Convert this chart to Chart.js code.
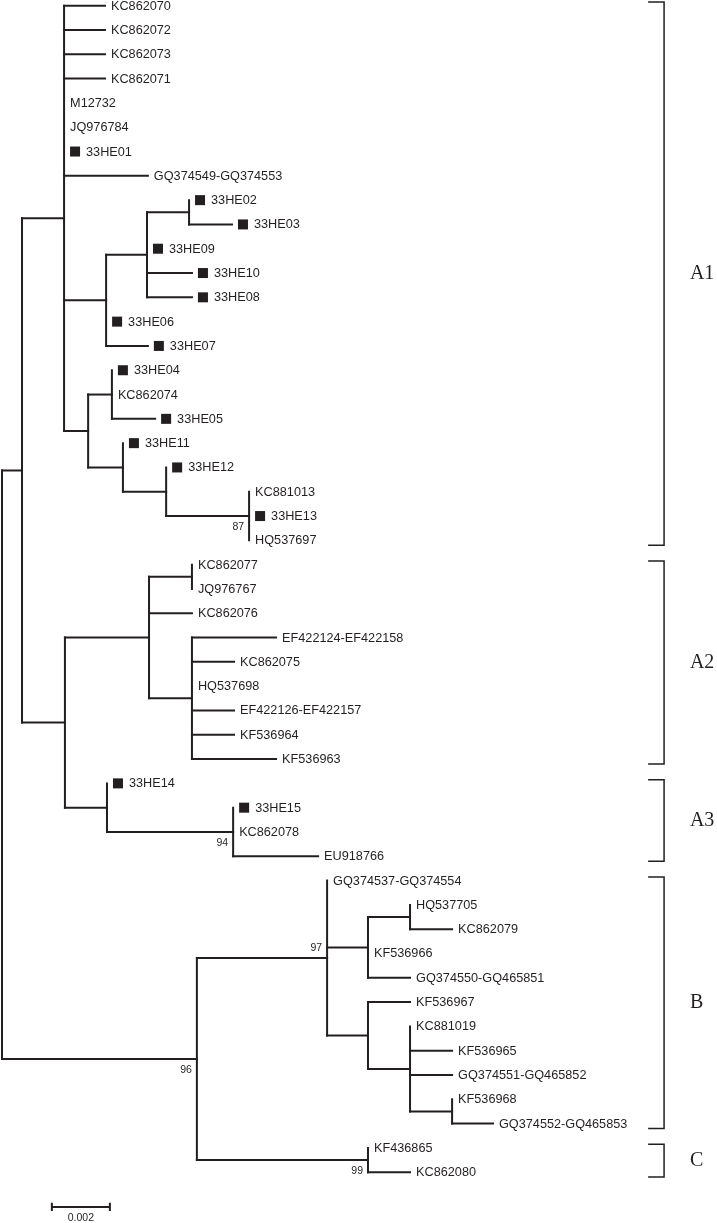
<!DOCTYPE html>
<html>
<head>
<meta charset="utf-8">
<script src="https://cdn.jsdelivr.net/npm/chart.js@4.4.1/dist/chart.umd.min.js"></script>
<style>
    html, body { margin: 0; padding: 0; background: #fff; }
    #wrap { width: 717px; height: 1223px; }
</style>
</head>
<body>
<div id="wrap"><canvas id="tree" width="717" height="1223"></canvas></div>
<script>
// ===== DATI =====
// Sequenze nell'ordine di disegno (dall'alto in basso)
const taxa = [
    'KC862070', 'KC862072', 'KC862073', 'KC862071', 'M12732', 'JQ976784', '33HE01',
    'GQ374549-GQ374553', '33HE02', '33HE03', '33HE09', '33HE10', '33HE08', '33HE06',
    '33HE07', '33HE04', 'KC862074', '33HE05', '33HE11', '33HE12', 'KC881013', '33HE13',
    'HQ537697', 'KC862077', 'JQ976767', 'KC862076', 'EF422124-EF422158', 'KC862075',
    'HQ537698', 'EF422126-EF422157', 'KF536964', 'KF536963', '33HE14', '33HE15',
    'KC862078', 'EU918766', 'GQ374537-GQ374554', 'HQ537705', 'KC862079', 'KF536966',
    'GQ374550-GQ465851', 'KF536967', 'KC881019', 'KF536965', 'GQ374551-GQ465852',
    'KF536968', 'GQ374552-GQ465853', 'KF436865', 'KC862080'
];

// Distanza di ogni foglia dalla radice (sostituzioni/sito)
const tipDepth = [
    0.00355, 0.00355, 0.00355, 0.00355, 0.00214, 0.00214, 0.00214,
    0.00503, 0.00645, 0.00793, 0.00500, 0.00655, 0.00655, 0.00359,
    0.00503, 0.00379, 0.00379, 0.00528, 0.00417, 0.00566, 0.00852, 0.00852,
    0.00852, 0.00655, 0.00655, 0.00655, 0.00945, 0.00800,
    0.00655, 0.00800, 0.00800, 0.00945, 0.00362, 0.00797,
    0.00797, 0.01090, 0.01121, 0.01407, 0.01552, 0.01262,
    0.01407, 0.01407, 0.01407, 0.01552, 0.01552,
    0.01552, 0.01693, 0.01262, 0.01407
];

// Nodo padre di ogni foglia
const tipParent = [
    'A1', 'A1', 'A1', 'A1', 'A1', 'A1', 'A1',
    'A1', 'N4', 'N4', 'N3', 'N3', 'N3', 'N1',
    'N1', 'N5', 'N5', 'N5', 'N6', 'N7', 'N8', 'N8',
    'N8', 'N9', 'N9', 'A2', 'N10', 'N10',
    'N10', 'N10', 'N10', 'N10', 'A3', 'N11',
    'N11', 'N11', 'B', 'N14', 'N14', 'N12',
    'N12', 'N13', 'N15', 'N15', 'N15',
    'N16', 'N16', 'C', 'C'
];

// Sequenze di questo studio (quadratino nero)
const markedTaxa = [
    '33HE01', '33HE02', '33HE03', '33HE09', '33HE10', '33HE08', '33HE06', '33HE07',
    '33HE04', '33HE05', '33HE11', '33HE12', '33HE13', '33HE14', '33HE15'
];

// Nodi interni: padre e distanza dalla radice
const nodeIds = ['root', 'A', 'A1', 'N1', 'N3', 'N4', 'N2', 'N5', 'N6', 'N7', 'N8',
    'A23', 'A2', 'N9', 'N10', 'A3', 'N11', 'BC', 'B', 'N12', 'N14', 'N13', 'N15', 'N16', 'C'];
const nodeParent = [null, 'root', 'A', 'A1', 'N1', 'N3', 'A1', 'N2', 'N2', 'N6', 'N7',
    'A', 'A23', 'A2', 'A2', 'A23', 'A3', 'root', 'BC', 'B', 'N12', 'B', 'N13', 'N15', 'BC'];
const nodeDepth = [0, 0.00069, 0.00214, 0.00359, 0.00500, 0.00645, 0.00297, 0.00379, 0.00417, 0.00566, 0.00852,
    0.00217, 0.00507, 0.00655, 0.00655, 0.00362, 0.00797, 0.00672, 0.01121, 0.01262, 0.01407, 0.01262, 0.01407, 0.01552, 0.01262];

// Valori di bootstrap
const supportNodes = ['N8', 'N11', 'BC', 'B', 'C'];
const supportValues = [87, 94, 96, 97, 99];
const supportAbove = [false, false, false, true, false];

// Genotipi (parentesi a destra)
const groupNames = ['A1', 'A2', 'A3', 'B', 'C'];
const groupFirst = ['KC862070', 'KC862077', '33HE14', 'GQ374537-GQ374554', 'KF436865'];
const groupLast = ['HQ537697', 'KF536963', 'EU918766', 'GQ374552-GQ465853', 'KC862080'];

const scaleBarLength = 0.002;

// ===== LAYOUT =====
const INK = '#231f20';
const X_MIN = -0.000069, X_MAX = 0.024655;
const Y_MIN = -0.235, Y_MAX = 50.09;
const BRACKET_X = 0.02283, BRACKET_TICK = 0.00055, GROUP_LABEL_X = 0.02372;
const SCALE_X = 0.00172, SCALE_Y = 49.43;

const pos = {};
taxa.forEach((t, i) => { pos[t] = { x: tipDepth[i], y: i }; });

const children = {};
nodeIds.forEach(n => { children[n] = []; });
taxa.forEach((t, i) => children[tipParent[i]].push(t));
nodeIds.forEach((n, i) => { if (nodeParent[i]) children[nodeParent[i]].push(n); });

function place(id) {
    if (pos[id]) return pos[id].y;
    const ys = children[id].map(place);
    pos[id] = { x: nodeDepth[nodeIds.indexOf(id)], y: (Math.min(...ys) + Math.max(...ys)) / 2 };
    return pos[id].y;
}
place('root');

// Segmenti dei rami
const segments = [];
nodeIds.forEach(n => {
    const ys = children[n].map(c => pos[c].y);
    segments.push([{ x: pos[n].x, y: Math.min(...ys) }, { x: pos[n].x, y: Math.max(...ys) }]);
    children[n].forEach(c => {
        if (pos[c].x > pos[n].x) {
            segments.push([{ x: pos[n].x, y: pos[c].y }, { x: pos[c].x, y: pos[c].y }]);
        }
    });
});

const datasets = segments.map(s => ({
    data: s,
    showLine: true,
    borderColor: INK,
    borderWidth: 2,
    borderCapStyle: 'square',
    pointRadius: 0
}));

// Parentesi dei genotipi
groupNames.forEach((g, i) => {
    const top = taxa.indexOf(groupFirst[i]) - 0.15;
    const bot = taxa.indexOf(groupLast[i]) + 0.2;
    datasets.push({
        data: [
            { x: BRACKET_X - BRACKET_TICK, y: top }, { x: BRACKET_X, y: top },
            { x: BRACKET_X, y: bot }, { x: BRACKET_X - BRACKET_TICK, y: bot }
        ],
        showLine: true,
        borderColor: INK,
        borderWidth: 1.5,
        pointRadius: 0
    });
});

// Barra di scala
[
    [{ x: SCALE_X, y: SCALE_Y }, { x: SCALE_X + scaleBarLength, y: SCALE_Y }],
    [{ x: SCALE_X, y: SCALE_Y - 0.17 }, { x: SCALE_X, y: SCALE_Y + 0.17 }],
    [{ x: SCALE_X + scaleBarLength, y: SCALE_Y - 0.17 }, { x: SCALE_X + scaleBarLength, y: SCALE_Y + 0.17 }]
].forEach(s => datasets.push({
    data: s, showLine: true, borderColor: INK, borderWidth: 2, pointRadius: 0
}));

// ===== ETICHETTE =====
const labelsPlugin = {
    id: 'treeLabels',
    afterDatasetsDraw(chart) {
        const ctx = chart.ctx;
        const xs = chart.scales.x, ys = chart.scales.y;
        ctx.save();
        ctx.fillStyle = INK;
        ctx.textBaseline = 'middle';

        // Nomi delle sequenze
        ctx.font = '12.7px "Liberation Sans", Arial, sans-serif';
        ctx.textAlign = 'left';
        taxa.forEach((t, i) => {
            const px = xs.getPixelForValue(tipDepth[i]);
            const py = ys.getPixelForValue(i);
            let lx = px + 6;
            if (markedTaxa.includes(t)) {
                ctx.fillRect(px + 6, py - 5, 10, 10);
                lx = px + 22;
            }
            ctx.fillText(t, lx, py + 0.5);
        });

        // Bootstrap
        ctx.font = '10.5px "Liberation Sans", Arial, sans-serif';
        ctx.textAlign = 'right';
        supportNodes.forEach((n, i) => {
            const px = xs.getPixelForValue(pos[n].x);
            const py = ys.getPixelForValue(pos[n].y);
            ctx.fillText(String(supportValues[i]), px - 5, supportAbove[i] ? py - 10 : py + 11);
        });

        // Genotipi
        ctx.font = '20px "Liberation Serif", "Times New Roman", serif';
        ctx.textAlign = 'left';
        groupNames.forEach((g, i) => {
            const mid = (taxa.indexOf(groupFirst[i]) - 0.15 + taxa.indexOf(groupLast[i]) + 0.2) / 2;
            ctx.fillText(g, xs.getPixelForValue(GROUP_LABEL_X), ys.getPixelForValue(mid));
        });

        // Scala
        ctx.font = '10.5px "Liberation Sans", Arial, sans-serif';
        ctx.textAlign = 'center';
        ctx.fillText(String(scaleBarLength),
            xs.getPixelForValue(SCALE_X + scaleBarLength / 2), ys.getPixelForValue(SCALE_Y) + 11);
        ctx.restore();
    }
};

new Chart(document.getElementById('tree'), {
    type: 'scatter',
    data: { datasets: datasets },
    options: {
        responsive: false,
        animation: false,
        layout: { padding: 0 },
        plugins: {
            legend: { display: false },
            tooltip: { enabled: false }
        },
        scales: {
            x: { type: 'linear', display: false, min: X_MIN, max: X_MAX },
            y: { type: 'linear', display: false, reverse: true, min: Y_MIN, max: Y_MAX }
        }
    },
    plugins: [labelsPlugin]
});
</script>
</body>
</html>
